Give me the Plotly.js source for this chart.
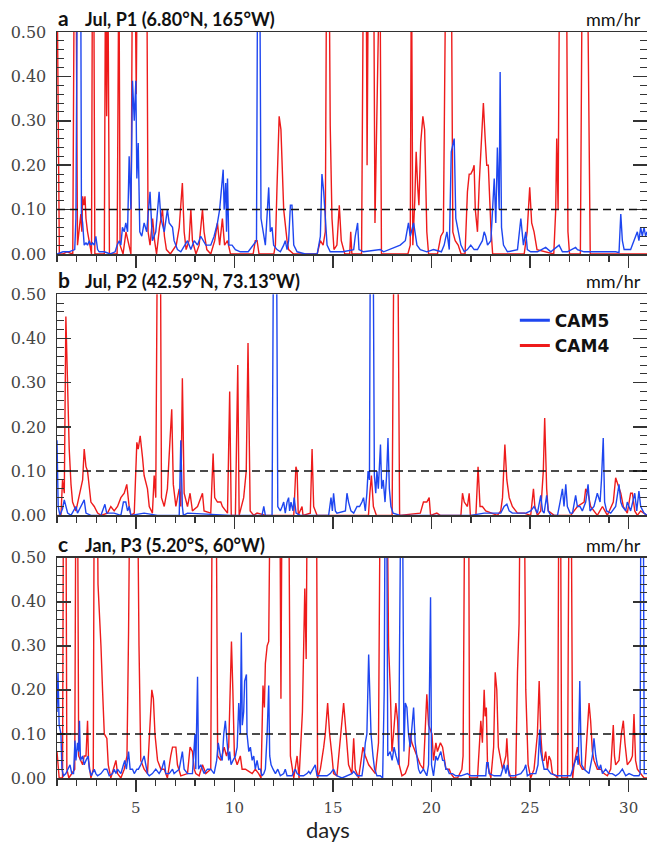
<!DOCTYPE html>
<html>
<head>
<meta charset="utf-8">
<script src="https://cdn.plot.ly/plotly-3.0.1.min.js"></script>
<style>html,body{margin:0;padding:0;background:#fff;overflow:hidden}#chart{width:647px;height:846px}</style>
</head>
<body>
<div id="chart"></div>
<script>
// ---- data: [day, precipitation mm/hr] ----
const seriesNames = ["CAM5", "CAM4"];
const panelLabels = ["a", "b", "c"];
const panelTitles = ["Jul, P1 (6.80°N, 165°W)", "Jul, P2 (42.59°N, 73.13°W)", "Jan, P3 (5.20°S, 60°W)"];
const unitLabel = "mm/hr";
const threshold = 0.1;

const aCAM4 = [[1.00,0.65],[1.12,0],[1.30,0],[1.50,0.005],[1.80,0],[1.88,0.7],[1.96,0.7],[2.04,0.02],[2.21,0.09],[2.26,0.05],[2.30,0.13],[2.36,0.11],[2.42,0.13],[2.47,0.08],[2.55,0.05],[2.65,0.02],[2.75,0],[2.80,0.7],[2.86,0.7],[2.92,0],[3.40,0],[3.46,0.65],[3.52,0.31],[3.58,0.65],[3.66,0],[4.05,0],[4.14,0.7],[4.20,0.02],[4.35,0],[4.50,0.05],[4.60,0.03],[4.75,0],[4.83,0.7],[4.95,0.7],[5.02,0.36],[5.08,0.7],[5.55,0.7],[5.62,0.05],[5.72,0.02],[5.85,0.08],[5.95,0.03],[6.05,0],[6.20,0.06],[6.35,0.1],[6.45,0.04],[6.55,0.01],[6.75,0],[7.05,0.02],[7.20,0.06],[7.36,0.16],[7.45,0.05],[7.55,0.01],[7.70,0.03],[7.79,0.1],[7.87,0.03],[8.05,0],[8.21,0.02],[8.38,0.1],[8.46,0.05],[8.60,0.01],[8.80,0],[9.00,0.03],[9.14,0.07],[9.25,0.02],[9.39,0.08],[9.50,0.02],[9.65,0.03],[9.80,0],[10.95,0],[11.06,0.03],[11.15,0.03],[11.25,0],[12.00,0],[12.08,0.02],[12.16,0.15],[12.27,0.31],[12.36,0.28],[12.50,0.1],[12.67,0.03],[12.75,0.01],[13.00,0],[14.20,0],[14.36,0.03],[14.50,0.02],[14.61,0.05],[14.68,0.7],[14.80,0.7],[14.86,0.29],[14.95,0.08],[15.05,0.01],[15.20,0.02],[15.32,0.11],[15.42,0.03],[15.60,0],[15.85,0],[15.90,0.05],[15.96,0],[16.45,0],[16.55,0.7],[16.68,0.7],[16.73,0.2],[16.80,0.7],[17.06,0.7],[17.13,0.07],[17.38,0.7],[17.46,0],[18.80,0],[18.92,0.02],[18.98,0.7],[19.05,0.02],[19.15,0.12],[19.22,0.23],[19.30,0.15],[19.36,0.11],[19.45,0.25],[19.56,0.31],[19.65,0.28],[19.76,0.05],[19.85,0],[20.30,0],[20.47,0.04],[20.60,0.05],[20.73,0.7],[21.00,0.7],[21.08,0.05],[21.20,0.03],[21.35,0.02],[21.50,0],[21.70,0],[21.82,0.14],[21.91,0.18],[21.99,0.18],[22.10,0.19],[22.16,0.2],[22.22,0.1],[22.33,0.05],[22.42,0.16],[22.50,0.24],[22.58,0.29],[22.63,0.34],[22.72,0.26],[22.80,0.2],[22.88,0.2],[22.96,0.1],[23.01,0.06],[23.10,0],[24.70,0],[24.85,0.05],[24.98,0.15],[25.08,0.07],[25.20,0.05],[25.35,0.01],[26.20,0],[26.30,0.1],[26.35,0.26],[26.42,0.1],[26.50,0.7],[26.84,0.7],[26.92,0.05],[27.00,0],[27.55,0],[27.65,0.7],[27.90,0.7],[28.05,0],[30.93,0]];

const aCAM5 = [[1.00,0],[1.30,0.005],[1.60,0.005],[1.90,0.01],[1.96,0.08],[2.04,0.7],[2.20,0.7],[2.24,0.09],[2.30,0.07],[2.38,0.02],[2.47,0.025],[2.55,0.02],[2.64,0.03],[2.72,0.02],[2.80,0.025],[2.89,0.02],[2.97,0.04],[3.06,0.01],[3.14,0.005],[3.40,0.005],[3.70,0],[3.95,0.005],[4.05,0.02],[4.16,0.03],[4.24,0.02],[4.32,0.06],[4.41,0.05],[4.49,0.07],[4.58,0.05],[4.66,0.22],[4.75,0.1],[4.83,0.39],[4.92,0.3],[5.00,0.39],[5.05,0.17],[5.12,0.25],[5.20,0.05],[5.30,0.04],[5.42,0.07],[5.55,0.05],[5.72,0.14],[5.84,0.03],[6.01,0.05],[6.18,0.14],[6.27,0.08],[6.44,0.05],[6.60,0.1],[6.69,0.07],[6.86,0.06],[6.94,0.03],[7.11,0.01],[7.28,0.005],[7.62,0.03],[7.79,0.01],[7.96,0.03],[8.13,0.02],[8.29,0.04],[8.55,0.02],[8.80,0.02],[8.97,0.04],[9.14,0.07],[9.25,0.1],[9.35,0.15],[9.43,0.19],[9.48,0.1],[9.56,0.16],[9.60,0.05],[9.65,0.17],[9.72,0.02],[9.88,0.02],[10.05,0.01],[10.30,0.005],[10.70,0.005],[10.98,0.02],[11.12,0.03],[11.18,0.7],[11.28,0.7],[11.35,0.08],[11.45,0.05],[11.57,0.02],[11.74,0.15],[11.82,0.05],[11.91,0.06],[11.99,0.02],[12.16,0.01],[12.33,0.005],[12.50,0.02],[12.58,0.03],[12.67,0.01],[12.75,0.03],[12.84,0.11],[12.92,0.11],[13.01,0.02],[13.18,0.005],[13.60,0],[14.20,0],[14.36,0.04],[14.44,0.18],[14.53,0.14],[14.61,0.07],[14.70,0.02],[14.86,0.005],[15.50,0.005],[16.05,0.01],[16.13,0.04],[16.25,0.07],[16.32,0.01],[16.55,0.005],[17.40,0.01],[17.57,0.005],[18.41,0.02],[18.67,0.03],[18.83,0.07],[18.92,0.04],[19.09,0.07],[19.26,0.02],[19.43,0.01],[19.76,0.005],[20.10,0.01],[20.50,0.005],[20.64,0.02],[20.78,0.05],[20.90,0.01],[21.00,0.23],[21.15,0.26],[21.23,0.08],[21.32,0.06],[21.49,0.02],[21.66,0.005],[21.82,0.01],[21.99,0.02],[22.16,0.01],[22.33,0.01],[22.58,0.03],[22.67,0.05],[22.75,0.04],[22.84,0.02],[23.01,0.03],[23.18,0.17],[23.26,0.07],[23.34,0.24],[23.43,0.1],[23.48,0.41],[23.55,0.06],[23.65,0.02],[23.85,0.005],[24.36,0.01],[24.53,0.08],[24.66,0.02],[24.78,0.05],[24.86,0.01],[25.03,0.005],[25.37,0.005],[25.79,0.015],[26.05,0.005],[26.47,0.02],[26.64,0.005],[26.89,0.005],[27.31,0.015],[27.40,0.01],[27.74,0.005],[28.07,0.005],[29.34,0.005],[29.51,0.003],[29.60,0.09],[29.68,0.03],[29.77,0.01],[30.10,0.01],[30.27,0.03],[30.44,0.05],[30.52,0.03],[30.61,0.06],[30.69,0.04],[30.78,0.06],[30.86,0.04],[30.93,0.05]];

const bCAM4 = [[1.00,0],[1.20,0],[1.28,0.08],[1.37,0.05],[1.45,0.45],[1.54,0.3],[1.62,0.15],[1.71,0.07],[1.79,0.03],[1.96,0.01],[2.10,0.04],[2.21,0.06],[2.30,0.08],[2.38,0.15],[2.47,0.11],[2.55,0.1],[2.64,0.06],[2.72,0.03],[2.89,0.02],[3.06,0.005],[3.23,0],[3.56,0.005],[3.73,0.02],[3.90,0.01],[4.07,0.02],[4.24,0.04],[4.41,0.05],[4.54,0.07],[4.66,0.02],[4.75,0],[4.92,0.005],[4.98,0.08],[5.05,0.165],[5.12,0.15],[5.22,0.18],[5.34,0.13],[5.42,0.09],[5.59,0.06],[5.68,0.02],[5.84,0.005],[5.93,0.09],[6.01,0.04],[6.10,0.7],[6.24,0.7],[6.30,0.04],[6.44,0.02],[6.60,0.06],[6.72,0.16],[6.82,0.24],[6.90,0.07],[7.03,0.02],[7.20,0.06],[7.28,0.02],[7.36,0.31],[7.45,0.05],[7.62,0.02],[7.75,0.05],[7.87,0.01],[8.13,0.02],[8.38,0.05],[8.46,0.01],[8.80,0.005],[8.92,0.14],[9.00,0.04],[9.14,0.03],[9.31,0.03],[9.39,0.02],[9.65,0.005],[9.76,0.28],[9.84,0],[10.05,0],[10.17,0.34],[10.24,0],[10.47,0.04],[10.60,0.1],[10.69,0.39],[10.80,0.01],[10.98,0],[11.15,0.005],[11.60,0],[13.01,0],[13.12,0.11],[13.18,0.1],[13.24,0],[13.43,0.02],[13.48,0],[13.85,0.005],[13.94,0.15],[14.02,0.02],[14.19,0],[16.80,0],[16.87,0.05],[16.95,0.09],[17.05,0.02],[17.20,0],[18.00,0],[18.10,0.7],[18.28,0.7],[18.38,0],[19.43,0.005],[19.59,0.03],[19.76,0.03],[19.88,0.04],[19.95,0],[20.27,0.005],[20.44,0],[21.49,0],[21.57,0.05],[21.66,0.03],[21.82,0.02],[21.91,0.05],[21.97,0],[22.25,0],[22.36,0.11],[22.46,0.02],[22.58,0.02],[22.75,0.01],[23.34,0],[23.51,0.01],[23.60,0.04],[23.72,0.16],[23.82,0.08],[23.94,0.04],[24.02,0.03],[24.10,0.02],[24.36,0.005],[24.70,0.005],[25.03,0],[25.17,0.06],[25.24,0.02],[25.37,0],[25.54,0.01],[25.67,0.1],[25.74,0.22],[25.84,0.06],[25.92,0.01],[26.22,0],[27.06,0],[27.40,0.02],[27.74,0.03],[27.82,0.06],[27.94,0.05],[28.07,0.02],[28.41,0],[28.67,0.02],[28.92,0],[29.22,0.03],[29.34,0.085],[29.46,0.07],[29.60,0.05],[29.73,0.02],[29.93,0.005],[30.10,0.05],[30.19,0.05],[30.31,0.01],[30.44,0],[30.61,0.01],[30.93,0]];

const bCAM5 = [[1.00,0.17],[1.06,0.02],[1.15,0],[1.28,0.015],[1.37,0.035],[1.45,0.02],[1.54,0.005],[1.71,0],[1.96,0.02],[2.04,0.005],[2.38,0.035],[2.47,0.005],[2.72,0],[3.23,0],[3.43,0.025],[3.52,0.005],[3.90,0.005],[4.24,0],[4.37,0.03],[4.49,0.03],[4.58,0.01],[4.66,0.02],[4.75,0],[5.42,0.005],[6.10,0],[7.20,0],[7.28,0.17],[7.36,0.02],[7.41,0],[7.62,0.005],[9.81,0],[11.40,0],[11.49,0.02],[11.57,0],[11.91,0],[11.99,0.7],[12.13,0.7],[12.20,0.02],[12.33,0.01],[12.42,0.02],[12.50,0.03],[12.58,0.005],[12.67,0.03],[12.75,0.04],[12.80,0.01],[12.87,0.03],[12.97,0.01],[13.03,0.04],[13.13,0.005],[13.34,0],[14.78,0],[14.90,0.04],[14.97,0.01],[15.03,0.05],[15.12,0.01],[15.20,0.005],[15.63,0.01],[15.71,0.05],[15.79,0.03],[15.91,0.01],[16.05,0.005],[16.22,0.02],[16.35,0.02],[16.47,0.03],[16.55,0.04],[16.64,0.01],[16.72,0.05],[16.78,0.1],[16.85,0.08],[16.90,0.7],[17.03,0.7],[17.10,0.09],[17.17,0.05],[17.23,0.1],[17.30,0.06],[17.41,0.16],[17.47,0.06],[17.55,0.08],[17.64,0.03],[17.72,0.09],[17.79,0.175],[17.86,0.06],[17.94,0.02],[18.05,0.005],[18.41,0],[20.44,0],[21.99,0],[22.67,0.005],[23.51,0.005],[23.68,0.02],[23.82,0.025],[23.94,0.01],[24.10,0.005],[24.55,0.005],[24.78,0.005],[25.03,0.01],[25.20,0.02],[25.37,0.005],[25.54,0.045],[25.63,0.01],[25.71,0.005],[25.84,0.045],[25.92,0.01],[26.05,0],[26.39,0],[26.52,0.03],[26.64,0.06],[26.72,0.02],[26.81,0.07],[26.89,0.02],[27.03,0.005],[27.15,0.005],[27.31,0.045],[27.40,0.02],[27.53,0.02],[27.65,0.01],[27.82,0.03],[27.94,0.07],[28.04,0.01],[28.24,0.02],[28.41,0.05],[28.55,0.03],[28.62,0.08],[28.71,0.175],[28.78,0.03],[28.88,0.01],[29.09,0.005],[29.34,0.02],[29.51,0.07],[29.60,0.03],[29.68,0.02],[29.85,0.01],[29.93,0.03],[30.10,0.01],[30.19,0.03],[30.31,0.05],[30.41,0.01],[30.52,0.055],[30.61,0.02],[30.78,0.005],[30.93,0]];

const cCAM4 = [[1.00,0.06],[1.11,0],[1.28,0],[1.33,0.7],[1.45,0.7],[1.50,0.02],[1.60,0],[1.75,0.01],[1.90,0.02],[1.96,0.7],[2.04,0.7],[2.10,0.05],[2.21,0.04],[2.30,0.03],[2.38,0.05],[2.47,0.05],[2.55,0.13],[2.60,0.04],[2.72,0],[2.84,0.02],[2.89,0.7],[3.04,0.7],[3.08,0.44],[3.14,0.39],[3.23,0.3],[3.31,0.2],[3.40,0.1],[3.53,0.09],[3.60,0.03],[3.73,0],[3.99,0.04],[4.07,0.01],[4.24,0],[4.41,0.02],[4.55,0.05],[4.63,0.33],[4.70,0.7],[5.08,0.7],[5.16,0.3],[5.25,0.04],[5.42,0.02],[5.59,0.01],[5.72,0.12],[5.81,0.2],[5.89,0.18],[5.97,0.1],[6.10,0.04],[6.27,0.02],[6.44,0.02],[6.60,0],[6.77,0.05],[6.86,0.07],[7.03,0.07],[7.11,0.03],[7.28,0.005],[7.62,0.01],[7.75,0.07],[7.87,0.06],[7.96,0.02],[8.04,0.01],[8.21,0.005],[8.29,0.02],[8.38,0.03],[8.55,0.01],[8.80,0.02],[8.88,0.7],[9.07,0.7],[9.15,0.05],[9.31,0.04],[9.48,0.07],[9.60,0.05],[9.71,0.07],[9.80,0.2],[9.85,0.31],[9.92,0.2],[10.00,0.05],[10.14,0.03],[10.30,0.05],[10.39,0.02],[10.56,0.02],[10.73,0.015],[10.90,0.01],[11.06,0.02],[11.23,0.01],[11.35,0],[11.45,0.21],[11.52,0.16],[11.57,0.26],[11.66,0.3],[11.74,0.31],[11.82,0.7],[12.30,0.7],[12.36,0.18],[12.42,0.7],[12.75,0.7],[12.84,0.05],[13.01,0],[13.18,0.05],[13.28,0],[13.45,0.15],[13.57,0.43],[13.64,0.27],[13.70,0.7],[14.16,0.7],[14.22,0],[14.36,0.02],[14.53,0.07],[14.61,0.1],[14.73,0.17],[14.83,0.1],[14.95,0.05],[15.03,0.01],[15.20,0.005],[15.37,0.08],[15.54,0.17],[15.67,0.1],[15.79,0.03],[15.96,0.01],[16.05,0.09],[16.13,0.02],[16.30,0],[16.52,0.07],[16.64,0.05],[16.81,0.03],[16.98,0.02],[17.15,0.01],[17.31,0.08],[17.40,0.7],[17.74,0.7],[17.82,0.3],[17.91,0.2],[17.99,0.06],[18.07,0.1],[18.19,0.17],[18.28,0.13],[18.36,0.03],[18.50,0.005],[18.67,0.01],[18.83,0.03],[18.92,0.1],[19.00,0.08],[19.26,0.05],[19.43,0.03],[19.59,0.02],[19.76,0.19],[19.85,0.12],[20.02,0.1],[20.10,0.04],[20.22,0.08],[20.30,0.06],[20.45,0.08],[20.56,0.07],[20.64,0.05],[20.73,0.02],[20.90,0.02],[20.98,0.01],[21.15,0],[21.32,0],[21.54,0.02],[21.60,0.05],[21.69,0.7],[21.88,0.7],[21.93,0],[22.33,0],[22.50,0.13],[22.58,0.08],[22.67,0.2],[22.72,0.14],[22.78,0.16],[22.84,0.03],[23.01,0],[23.15,0.07],[23.23,0.24],[23.31,0.2],[23.39,0.07],[23.48,0.05],[23.60,0.02],[23.77,0.05],[23.82,0.09],[23.90,0.02],[24.02,0],[24.27,0],[24.36,0.24],[24.44,0.35],[24.50,0.7],[24.70,0.7],[24.78,0.2],[24.90,0.03],[25.03,0],[25.20,0.02],[25.37,0.1],[25.46,0.22],[25.54,0.1],[25.63,0.04],[25.71,0.04],[25.79,0.06],[25.88,0.02],[25.96,0.05],[26.05,0.04],[26.13,0.01],[26.30,0.005],[26.40,0],[26.46,0.7],[26.54,0.7],[26.60,0],[26.90,0],[26.98,0.7],[27.08,0.7],[27.16,0],[27.23,0.03],[27.40,0.07],[27.53,0.03],[27.65,0.02],[27.78,0.02],[27.91,0.1],[27.99,0.17],[28.07,0.13],[28.16,0.06],[28.24,0.04],[28.41,0.02],[28.58,0.02],[28.75,0.01],[28.92,0.005],[29.09,0.02],[29.22,0.12],[29.28,0.05],[29.34,0.03],[29.51,0.04],[29.63,0.1],[29.73,0.13],[29.81,0.08],[29.93,0.03],[30.10,0.04],[30.19,0.05],[30.27,0.145],[30.35,0.04],[30.44,0.02],[30.61,0.01],[30.78,0],[30.93,0]];

const cCAM5 = [[1.00,0.15],[1.05,0.24],[1.11,0.12],[1.20,0.1],[1.25,0.02],[1.33,0.005],[1.45,0.01],[1.54,0.02],[1.66,0.03],[1.75,0.01],[1.84,0.01],[1.91,0.085],[1.96,0.04],[2.04,0.08],[2.10,0.06],[2.14,0.13],[2.19,0.04],[2.30,0.05],[2.38,0.03],[2.47,0.04],[2.58,0.05],[2.64,0.02],[2.74,0.005],[2.89,0.02],[2.97,0.01],[3.06,0.005],[3.23,0.01],[3.40,0.02],[3.53,0.02],[3.65,0.005],[3.82,0.01],[3.90,0.02],[3.99,0.01],[4.07,0.02],[4.24,0.01],[4.37,0.03],[4.44,0.04],[4.52,0.02],[4.63,0.06],[4.71,0.02],[4.83,0.02],[4.92,0.01],[5.05,0.02],[5.13,0.02],[5.25,0.03],[5.42,0.05],[5.51,0.03],[5.59,0.01],[5.68,0.005],[5.84,0.01],[6.01,0.02],[6.18,0.01],[6.31,0.02],[6.44,0.04],[6.52,0.01],[6.69,0.01],[6.86,0.02],[6.94,0.01],[7.20,0.02],[7.36,0.06],[7.45,0.02],[7.62,0.01],[7.87,0.01],[8.00,0.1],[8.04,0.02],[8.13,0.23],[8.18,0.02],[8.29,0.03],[8.46,0.01],[8.63,0.02],[8.80,0.02],[8.97,0.01],[9.10,0.04],[9.18,0.08],[9.29,0.05],[9.38,0.04],[9.46,0.1],[9.54,0.13],[9.63,0.08],[9.71,0.04],[9.76,0.06],[9.83,0.03],[9.93,0.04],[10.05,0.05],[10.14,0.07],[10.22,0.17],[10.30,0.1],[10.35,0.33],[10.40,0.12],[10.47,0.15],[10.52,0.22],[10.61,0.235],[10.64,0.1],[10.73,0.06],[10.81,0.07],[10.90,0.04],[10.98,0.05],[11.06,0.02],[11.15,0.04],[11.23,0.02],[11.32,0.02],[11.40,0.005],[11.49,0.01],[11.57,0.02],[11.66,0.1],[11.74,0.21],[11.79,0.05],[11.86,0.03],[11.96,0.02],[12.08,0.01],[12.20,0.02],[12.33,0.005],[12.50,0.01],[12.58,0.02],[12.67,0.005],[12.92,0.005],[13.09,0.02],[13.18,0.01],[13.34,0.005],[13.51,0.005],[13.68,0.01],[13.77,0.015],[13.85,0.01],[13.98,0.02],[14.10,0.03],[14.19,0.005],[14.53,0.005],[14.70,0.005],[14.86,0.01],[15.03,0.02],[15.12,0.01],[15.20,0.005],[15.46,0],[15.71,0.005],[15.96,0.01],[16.05,0.015],[16.22,0.005],[16.47,0.005],[16.55,0.03],[16.64,0.08],[16.72,0.1],[16.81,0.28],[16.86,0.2],[16.93,0.1],[17.03,0.05],[17.11,0.02],[17.23,0.005],[17.40,0.005],[17.52,0],[17.60,0.2],[17.65,0.7],[17.72,0.7],[17.78,0.05],[17.90,0.06],[18.00,0.04],[18.10,0.07],[18.20,0.05],[18.33,0.03],[18.45,0.7],[18.52,0.7],[18.60,0.06],[18.67,0.17],[18.75,0.16],[18.83,0.1],[18.92,0.07],[19.00,0.12],[19.09,0.16],[19.17,0.08],[19.26,0.05],[19.34,0.02],[19.43,0.01],[19.59,0.02],[19.76,0.005],[19.85,0.03],[19.95,0.41],[20.00,0.03],[20.10,0.005],[20.22,0.05],[20.30,0.04],[20.39,0.05],[20.47,0.06],[20.56,0.04],[20.64,0.04],[20.73,0.02],[20.81,0.02],[20.90,0.01],[21.06,0.01],[21.23,0.005],[21.49,0.005],[21.82,0.01],[21.99,0.005],[22.33,0.005],[22.75,0.005],[22.80,0.035],[22.87,0.035],[22.92,0.01],[23.18,0.005],[23.51,0.005],[23.60,0.02],[23.68,0.03],[23.77,0.01],[23.85,0.03],[23.94,0.005],[24.19,0.005],[24.53,0.01],[24.70,0.02],[24.78,0.03],[24.86,0.005],[25.03,0.01],[25.29,0.01],[25.40,0.03],[25.49,0.11],[25.54,0.06],[25.63,0.04],[25.71,0.02],[25.88,0.02],[26.05,0.01],[26.39,0.005],[26.72,0.005],[27.06,0.005],[27.23,0.03],[27.37,0.05],[27.44,0.03],[27.52,0.22],[27.57,0.1],[27.62,0.03],[27.74,0.02],[27.99,0.01],[28.16,0.05],[28.24,0.09],[28.33,0.05],[28.41,0.03],[28.50,0.02],[28.58,0.03],[28.67,0.01],[28.83,0.02],[29.00,0.01],[29.17,0.01],[29.34,0.005],[29.51,0.01],[29.68,0.02],[29.85,0.005],[30.02,0.01],[30.27,0.005],[30.52,0.005],[30.58,0.01],[30.62,0.7],[30.74,0.7],[30.79,0.01],[30.93,0.01]];

const xTickVals = [5, 10, 15, 20, 25, 30];
const yTickVals = [0, 0.1, 0.2, 0.3, 0.4, 0.5];

// ---- styling ----
const BLUE = '#1e46f0', RED = '#ee1b1b', INK = '#333333';
const panels = [
  {cam4: aCAM4, cam5: aCAM5, dom: [0.7024, 1.0]},
  {cam4: bCAM4, cam5: bCAM5, dom: [0.3521, 0.6484]},
  {cam4: cCAM4, cam5: cCAM5, dom: [0.0, 0.2953]}
];

const traces = [];
const layout = {
  width: 647, height: 846,
  margin: {l: 57, r: 0, t: 32, b: 68},
  paper_bgcolor: '#fff', plot_bgcolor: '#fff',
  showlegend: true,
  legend: {x: 0.776, y: 0.637, xanchor: 'left', yanchor: 'top', bgcolor: 'rgba(0,0,0,0)',
           font: {family: 'DejaVu Sans', size: 17, color: '#111', weight: 'bold'},
           traceorder: 'normal', itemwidth: 30, tracegroupgap: 0},
  shapes: [], annotations: []
};

panels.forEach((p, i) => {
  const sx = i === 0 ? '' : String(i + 1);
  const xa = 'x' + sx, ya = 'y' + sx;
  traces.push({x: p.cam4.map(d => d[0]), y: p.cam4.map(d => d[1]), xaxis: xa, yaxis: ya,
               type: 'scatter', mode: 'lines', line: {color: RED, width: 1.4}, name: seriesNames[1],
               showlegend: false, hoverinfo: 'skip'});
  traces.push({x: p.cam5.map(d => d[0]), y: p.cam5.map(d => d[1]), xaxis: xa, yaxis: ya,
               type: 'scatter', mode: 'lines', line: {color: BLUE, width: 1.4}, name: seriesNames[0],
               showlegend: false, hoverinfo: 'skip'});
  const isBottom = i === 2;
  layout['xaxis' + sx] = {
    domain: [0, 1], anchor: ya, range: [1, 30.93], showgrid: false, zeroline: false,
    showline: true, linecolor: INK, linewidth: 1.5, mirror: true,
    ticks: 'outside', ticklen: 12, tickwidth: 1.5, tickcolor: INK,
    tickmode: 'array', tickvals: xTickVals, ticktext: xTickVals.map(String),
    showticklabels: isBottom, ticklabelstandoff: 3,
    tickfont: {family: 'DejaVu Serif', size: 15, color: '#444'},
    minor: {dtick: 1, tick0: 0, ticks: 'outside', ticklen: 6, tickwidth: 1.2, tickcolor: INK}
  };
  layout['yaxis' + sx] = {
    domain: p.dom, anchor: xa, range: [0, 0.5], showgrid: false, zeroline: false,
    showline: true, linecolor: INK, linewidth: 1.5, mirror: 'ticks',
    ticks: 'inside', ticklen: 14, tickwidth: 1.5, tickcolor: INK,
    tickmode: 'array', tickvals: yTickVals, ticktext: yTickVals.map(v => v.toFixed(2)),
    ticklabelstandoff: 6,
    tickfont: {family: 'DejaVu Serif', size: 16, color: '#444'},
    minor: {dtick: 0.02, tick0: 0, ticks: 'inside', ticklen: 7, tickwidth: 1, tickcolor: INK}
  };
  layout.shapes.push({type: 'line', xref: xa + ' domain', yref: ya, x0: 0, x1: 1, y0: threshold, y1: threshold,
                      line: {color: '#111', width: 1.5, dash: '8px,5px'}});
  layout.annotations.push({xref: 'paper', yref: 'paper', x: 0, y: p.dom[1], xanchor: 'left', yanchor: 'bottom',
    text: '<b>' + panelLabels[i] + '</b>', showarrow: false, xshift: -1,
    font: {family: 'Lato', size: 21, color: '#111'}});
  layout.annotations.push({xref: 'paper', yref: 'paper', x: 0.044, y: p.dom[1], xanchor: 'left', yanchor: 'bottom',
    text: '<b>' + panelTitles[i] + '</b>', showarrow: false,
    font: {family: 'Lato', size: 18, color: '#111'}});
  layout.annotations.push({xref: 'paper', yref: 'paper', x: 1, y: p.dom[1], xanchor: 'right', yanchor: 'bottom',
    text: unitLabel, showarrow: false, xshift: -4,
    font: {family: 'Lato', size: 18, color: '#111'}});
});

// legend entries (panel b)
traces.push({x: [null], y: [null], xaxis: 'x2', yaxis: 'y2', type: 'scatter', mode: 'lines',
             line: {color: BLUE, width: 3}, name: seriesNames[0], hoverinfo: 'skip'});
traces.push({x: [null], y: [null], xaxis: 'x2', yaxis: 'y2', type: 'scatter', mode: 'lines',
             line: {color: RED, width: 3}, name: seriesNames[1], hoverinfo: 'skip'});

layout.annotations.push({xref: 'paper', yref: 'paper', x: 0.459, y: -0.0898, xanchor: 'center', yanchor: 'bottom',
  text: 'days', showarrow: false, font: {family: 'Lato', size: 22, color: '#222'}});

Plotly.newPlot('chart', traces, layout, {displayModeBar: false, staticPlot: true});
</script>
</body>
</html>
